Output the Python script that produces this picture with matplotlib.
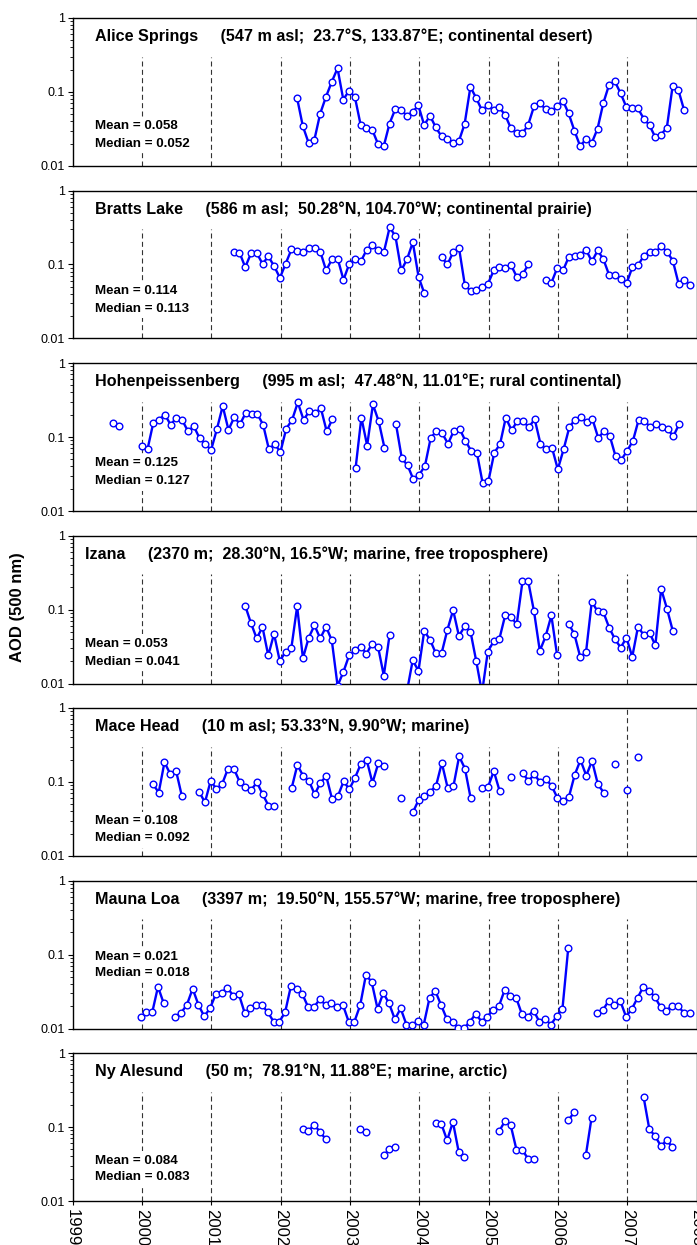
import numpy as np
import matplotlib.pyplot as plt
from matplotlib.ticker import NullFormatter, FixedLocator

plt.rcParams['font.family'] = ['Liberation Sans', 'DejaVu Sans']

nan = np.nan

# monthly mean AOD at 500 nm, one value per month from the first month shown
names = ['Alice Springs', 'Bratts Lake', 'Hohenpeissenberg', 'Izana',
         'Mace Head', 'Mauna Loa', 'Ny Alesund']
details = ['(547 m asl;  23.7°S, 133.87°E; continental desert)',
           '(586 m asl;  50.28°N, 104.70°W; continental prairie)',
           '(995 m asl;  47.48°N, 11.01°E; rural continental)',
           '(2370 m;  28.30°N, 16.5°W; marine, free troposphere)',
           '(10 m asl; 53.33°N, 9.90°W; marine)',
           '(3397 m;  19.50°N, 155.57°W; marine, free troposphere)',
           '(50 m;  78.91°N, 11.88°E; marine, arctic)']
means = ['0.058', '0.114', '0.125', '0.053', '0.108', '0.021', '0.084']
medians = ['0.052', '0.113', '0.127', '0.041', '0.092', '0.018', '0.083']

# decimal year of the first monthly value
starts = [2002.239, 2001.325, 1999.583, 2001.49, 2000.16, 1999.983, 2002.32]

alice = [0.083, 0.0345, 0.0205, 0.0227, 0.051, 0.086, 0.137, 0.209, 0.079, 0.104,
         0.086, 0.036, 0.033, 0.031, 0.0199, 0.0185, 0.0374, 0.0588, 0.057, 0.0479,
         0.0536, 0.0658, 0.0356, 0.0479, 0.0334, 0.0251, 0.0234, 0.0205, 0.0216, 0.037,
         0.117, 0.083, 0.0564, 0.0658, 0.0564, 0.0618, 0.049, 0.0325, 0.0275, 0.0275,
         0.036, 0.0637, 0.0706, 0.0588, 0.0553, 0.0637, 0.0766, 0.0514, 0.030, 0.0185,
         0.0231, 0.0205, 0.0318, 0.0706, 0.125, 0.139, 0.096, 0.0624, 0.060, 0.060,
         0.0436, 0.0356, 0.0244, 0.0265, 0.033, 0.120, 0.106, 0.0564]

bratts = [0.146, 0.145, 0.092, 0.142, 0.142, 0.102, 0.129, 0.095, 0.066, 0.103,
          0.160, 0.150, 0.148, 0.167, 0.167, 0.148, 0.083, 0.118, 0.120, 0.062,
          0.102, 0.119, 0.110, 0.157, 0.181, 0.157, 0.148, 0.32, 0.239, 0.083,
          0.118, 0.199, 0.068, 0.0406, nan, nan,
          0.126, 0.100, 0.148, 0.167, 0.053, 0.044, 0.0455, 0.0494, 0.0547, 0.083,
          0.092, 0.090, 0.098, 0.068, 0.0736, 0.100, nan, nan,
          0.062, 0.057, 0.090, 0.083, 0.127, 0.132, 0.136, 0.157, 0.110, 0.155,
          0.117, 0.0713, 0.0713, 0.0637, 0.0558, 0.092, 0.098, 0.132, 0.149, 0.146,
          0.177, 0.148, 0.113, 0.055, 0.0624, 0.0525]

hohen = [0.157, 0.139, nan, nan, nan,
         0.075, 0.069, 0.157, 0.172, 0.200, 0.146, 0.183, 0.169, 0.119, 0.140,
         0.096, 0.080, 0.067, 0.128, 0.262, 0.125, 0.185, 0.149, 0.213, 0.205,
         0.205, 0.146, 0.068, 0.080, 0.063, 0.130, 0.169, 0.293, 0.170, 0.224,
         0.213, 0.243, 0.119, 0.176, nan, nan, nan,
         0.0379, 0.183, 0.0767, 0.275, 0.163, 0.0714, nan,
         0.148, 0.0514, 0.0414, 0.0267, 0.0308, 0.0406, 0.097, 0.120, 0.112, 0.081,
         0.121, 0.129, 0.089, 0.065, 0.061, 0.0236, 0.0256, 0.0612, 0.080, 0.183,
         0.123, 0.165, 0.162, 0.136, 0.174, 0.081, 0.068, 0.0714, 0.0366, 0.068,
         0.136, 0.172, 0.185, 0.158, 0.174, 0.097, 0.120, 0.103, 0.0547, 0.0494,
         0.065, 0.0885, 0.172, 0.165, 0.136, 0.150, 0.136, 0.128, 0.102, 0.150]

izana = [0.113, 0.0658, 0.0406, 0.058, 0.0239, 0.0469, 0.020, 0.027, 0.0302, 0.110,
         0.022, 0.0415, 0.0612, 0.0406, 0.0587, 0.0382, 0.0093, 0.0143, 0.024, 0.0281,
         0.0314, 0.0254, 0.0345, 0.0314, 0.0128, 0.0455, nan, nan,
         0.0078, 0.0205, 0.0149, 0.0514, 0.039, 0.0256, 0.0256, 0.053, 0.098, 0.044,
         0.059, 0.0504, 0.020, 0.0075, 0.027, 0.037, 0.040, 0.083, 0.080, 0.063,
         0.239, 0.239, 0.094, 0.0276, 0.0432, 0.083, 0.0239, nan,
         0.0644, 0.046, 0.0227, 0.0265, 0.128, 0.094, 0.092, 0.057, 0.0398, 0.0306,
         0.0415, 0.0229, 0.0587, 0.0449, 0.0484, 0.0328, 0.190, 0.103, 0.052]

mace = [0.094, 0.072, 0.185, 0.128, 0.142, 0.065, nan, nan,
        0.074, 0.053, 0.104, 0.080, 0.095, 0.152, 0.152, 0.101, 0.086, 0.078,
        0.099, 0.068, 0.048, 0.048, nan, nan,
        0.082, 0.170, 0.121, 0.104, 0.068, 0.098, 0.120, 0.059, 0.064, 0.102,
        0.080, 0.115, 0.177, 0.198, 0.097, 0.179, 0.167, nan, nan,
        0.060, nan,
        0.039, 0.0575, 0.065, 0.074, 0.0885, 0.181, 0.084, 0.087, 0.222, 0.152,
        0.060, nan,
        0.082, 0.086, 0.140, 0.076, nan,
        0.118, nan,
        0.133, 0.103, 0.127, 0.100, 0.109, 0.089, 0.061, 0.056, 0.063, 0.125,
        0.198, 0.122, 0.193, 0.094, 0.072, nan,
        0.177, nan, 0.078, nan, 0.215]

mauna = [0.0145, 0.0165, 0.0165, 0.0366, 0.0218, nan,
         0.0145, 0.0163, 0.0209, 0.0345, 0.0209, 0.0146, 0.0187, 0.029, 0.0302, 0.0356,
         0.0279, 0.029, 0.0163, 0.0187, 0.0211, 0.0205, 0.0167, 0.0124, 0.0124, 0.0165,
         0.0374, 0.0341, 0.029, 0.0194, 0.0194, 0.0249, 0.0209, 0.0218, 0.0194, 0.0209,
         0.0124, 0.0124, 0.0207, 0.0536, 0.042, 0.0185, 0.0302, 0.0218, 0.0133, 0.0187,
         0.0113, 0.0113, 0.0125, 0.0113, 0.0259, 0.0321, 0.0207, 0.0134, 0.0123, 0.0101,
         0.0101, 0.0124, 0.0158, 0.0124, 0.0145, 0.0177, 0.020, 0.0331, 0.0276, 0.0259,
         0.0155, 0.0145, 0.0175, 0.0124, 0.0134, 0.0113, 0.0146, 0.0183, 0.121,
         nan, nan, nan, nan,
         0.0163, 0.0177, 0.0237, 0.0209, 0.0237, 0.0145, 0.0183, 0.0259, 0.0366, 0.0325,
         0.0267, 0.0194, 0.0175, 0.0203, 0.0203, 0.0163, 0.0163]

ny = [0.095, 0.0892, 0.106, 0.0865, 0.068, nan, nan, nan, nan, nan,
      0.093, 0.0846, nan, nan,
      0.0412, 0.0498, 0.0535, nan, nan, nan, nan, nan, nan,
      0.1145, 0.110, 0.066, 0.117, 0.0463, 0.0388, nan, nan, nan, nan, nan,
      0.0873, 0.120, 0.106, 0.0493, 0.0493, 0.0372, 0.0364, nan, nan, nan, nan, nan,
      0.123, 0.160, nan, 0.0412, 0.134, nan, nan, nan, nan, nan, nan, nan, nan,
      0.255, 0.093, 0.0755, 0.0552, 0.066, 0.0535]

series = [alice, bratts, hohen, izana, mace, mauna, ny]
years = list(range(1999, 2009))

# layout (pixels on a 697 x 1245 canvas)
W, H = 697, 1245
x0, x1 = 72.5, 696.5
top0, step, ph = 18, 172.5, 148
title_x = [0.036, 0.036, 0.036, 0.020, 0.036, 0.036, 0.036]
stat_y = [(0.27, 0.15), (0.32, 0.20), (0.324, 0.20), (0.27, 0.147),
          (0.236, 0.12), (0.485, 0.375), (0.273, 0.162)]
full_dash = {(4, 2007), (6, 2007)}
blue = '#0000ff'

fig = plt.figure(figsize=(W / 100, H / 100), dpi=100)

for k, vals in enumerate(series):
    bottom = 1 - (top0 + k * step + ph) / H
    ax = fig.add_axes([x0 / W, bottom, (x1 - x0) / W, ph / H])
    vals = np.array(vals, dtype=float)
    t = starts[k] + np.arange(len(vals)) / 12.0

    for yr in range(2000, 2008):
        top = 1.0 if (k, yr) in full_dash else 0.3
        ax.vlines(yr, 0.01, top, colors='#333333', linestyles=(0, (4.5, 3)),
                  lw=0.8, zorder=1)

    ax.plot(t, vals, '-o', color=blue, lw=1.7, ms=4.8, mfc='white',
            mec=blue, mew=1.0, zorder=3)

    ax.set_yscale('log')
    ax.set_ylim(0.01, 1)
    ax.set_xlim(1999, 2008)
    ax.yaxis.set_major_locator(FixedLocator([0.01, 0.1, 1]))
    ax.set_yticklabels(['0.01', '0.1', '1'])
    ax.yaxis.set_minor_formatter(NullFormatter())
    ax.tick_params(axis='y', which='major', length=3.5, width=0.8,
                   labelsize=9, direction='out', pad=2)
    ax.tick_params(axis='y', which='minor', length=2.5, width=0.6, direction='out')

    ax.set_xticks(years)
    if k == len(series) - 1:
        ax.set_xticklabels([str(y) for y in years])
        ax.tick_params(axis='x', length=3, width=0.8, labelsize=12,
                       labelrotation=-90, pad=3)
    else:
        ax.tick_params(axis='x', length=0, labelbottom=False)

    for s in ax.spines.values():
        s.set_linewidth(1.0)

    ax.text(title_x[k], 0.875, names[k] + '     ' + details[k],
            transform=ax.transAxes, fontsize=11.6, fontweight='bold',
            ha='left', va='center', zorder=5)
    box = dict(facecolor='white', edgecolor='none', pad=2.5)
    ax.text(title_x[k], stat_y[k][0], 'Mean = ' + means[k],
            transform=ax.transAxes, fontsize=9.6, fontweight='bold',
            ha='left', va='center', bbox=box, zorder=5)
    ax.text(title_x[k], stat_y[k][1], 'Median = ' + medians[k],
            transform=ax.transAxes, fontsize=9.6, fontweight='bold',
            ha='left', va='center', bbox=box, zorder=5)

fig.text(18 / W, 1 - 607 / H, 'AOD (500 nm)', rotation=90, fontsize=12,
         fontweight='bold', ha='center', va='center')

fig.savefig('out.png', dpi=100)
